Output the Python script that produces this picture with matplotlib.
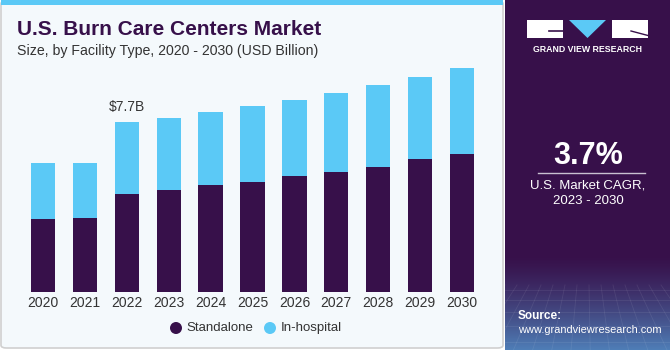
import numpy as np
import matplotlib
matplotlib.use("Agg")
from matplotlib import pyplot as plt
from matplotlib.patches import FancyBboxPatch, Rectangle, Polygon, Ellipse

plt.rcParams['font.family'] = ['Liberation Sans', 'DejaVu Sans']

years = ["2020", "2021", "2022", "2023", "2024", "2025", "2026", "2027", "2028", "2029", "2030"]
standalone = [3.31, 3.35, 4.44, 4.62, 4.85, 4.98, 5.25, 5.43, 5.66, 6.02, 6.25]
in_hospital = [2.53, 2.49, 3.26, 3.26, 3.30, 3.44, 3.45, 3.58, 3.72, 3.72, 3.89]
label_year = 2
label_text = "$7.7B"

PURPLE = "#37104a"
BLUE = "#5bc9f6"
W, H = 670, 350

def fx(x):
    return x / W

def fy(y):
    return 1 - y / H

fig = plt.figure(figsize=(6.7, 3.5), dpi=100)
fig.patch.set_facecolor("white")

# left panel background
fig.patches.append(FancyBboxPatch((fx(1), fy(348)), fx(502), 347 / H,
                                  boxstyle="round,pad=0,rounding_size=0.008",
                                  transform=fig.transFigure, facecolor="#f4f9fc",
                                  edgecolor="#d0d0d0", linewidth=1.2, zorder=-2))
fig.patches.append(Rectangle((fx(1), fy(5)), fx(502), 5 / H, transform=fig.transFigure,
                             facecolor=BLUE, edgecolor="none", zorder=-1))

# right panel
rp = fig.add_axes([fx(505), 0, fx(165), 1])
grad = np.zeros((350, 10, 3))
top = np.array(matplotlib.colors.to_rgb(PURPLE))
bot = np.array(matplotlib.colors.to_rgb("#4f7fb8"))
for i in range(350):
    t = 0 if i < 255 else ((i - 255) / 95) ** 1.3
    grad[i, :, :] = top * (1 - t) + bot * t
rp.imshow(grad, aspect="auto", extent=[0, 165, 350, 0])
for k in range(0, 175, 12):
    rp.plot([k, k + (k - 82) * 0.6], [285, 350], color="white", alpha=0.08, lw=0.6)
for yy in [290, 300, 312, 326, 342]:
    rp.plot([0, 165], [yy, yy], color="white", alpha=0.08, lw=0.6)
rp.set_xlim(0, 165)
rp.set_ylim(350, 0)
rp.axis("off")

# logo
rp.add_patch(Rectangle((22, 20), 36, 18, facecolor="white", edgecolor="none"))
rp.add_patch(Polygon([[64, 20], [101, 20], [82.5, 38]], facecolor=BLUE, edgecolor="none"))
rp.add_patch(Rectangle((107, 20), 36, 18, facecolor="white", edgecolor="none"))
rp.plot([44, 58], [31, 31], color=PURPLE, lw=1.2)
rp.plot([126, 143], [31, 35.5], color=PURPLE, lw=1)
rp.text(82.5, 50, "GRAND VIEW RESEARCH", color="white", fontsize=6.3, fontweight="bold",
        ha="center", va="center")

rp.text(83, 156, "3.7%", color="white", fontsize=22, fontweight="bold", ha="center", va="center")
rp.plot([33, 140], [173, 173], color="#c8c0d0", lw=1)
rp.text(83, 186, "U.S. Market CAGR,", color="white", fontsize=9.5, ha="center", va="center")
rp.text(83, 201, "2023 - 2030", color="white", fontsize=9.5, ha="center", va="center")
rp.text(13, 316, "Source:", color="white", fontsize=8.5, fontweight="bold", ha="left", va="center")
rp.text(13, 330, "www.grandviewresearch.com", color="white", fontsize=7.9, ha="left", va="center")

# titles
fig.text(fx(17), fy(35), "U.S. Burn Care Centers Market", color=PURPLE, fontsize=15,
         fontweight="bold", ha="left", va="baseline")
fig.text(fx(17), fy(55), "Size, by Facility Type, 2020 - 2030 (USD Billion)", color="#333333",
         fontsize=10.2, ha="left", va="baseline")

# bars
ax = fig.add_axes([fx(22), fy(291.7), fx(461), 264.5 / H])
ax.set_facecolor("none")
x = np.arange(len(years))
ax.bar(x, standalone, width=0.58, color=PURPLE, edgecolor="none")
ax.bar(x, in_hospital, width=0.58, bottom=standalone, color=BLUE, edgecolor="none")
total = standalone[label_year] + in_hospital[label_year]
ax.text(x[label_year], total + 0.35, label_text, ha="center", va="bottom", fontsize=10, color="#333333")
ax.set_xlim(-0.5, len(years) - 0.5)
ax.set_ylim(0, 12)
ax.set_xticks(x)
ax.set_xticklabels(years, fontsize=10, color="#333333")
ax.tick_params(axis="x", length=0, pad=3)
ax.set_yticks([])
for s in ax.spines.values():
    s.set_visible(False)

# legend
r = 6
fig.patches.append(Ellipse((fx(176), fy(328)), 2 * r / W, 2 * r / H, transform=fig.transFigure,
                           facecolor=PURPLE, edgecolor="none"))
fig.text(fx(186), fy(328), "Standalone", fontsize=9.5, color="#333333", ha="left", va="center")
fig.patches.append(Ellipse((fx(270), fy(328)), 2 * r / W, 2 * r / H, transform=fig.transFigure,
                           facecolor=BLUE, edgecolor="none"))
fig.text(fx(281), fy(328), "In-hospital", fontsize=9.5, color="#333333", ha="left", va="center")

fig.savefig("out.png", dpi=100)
